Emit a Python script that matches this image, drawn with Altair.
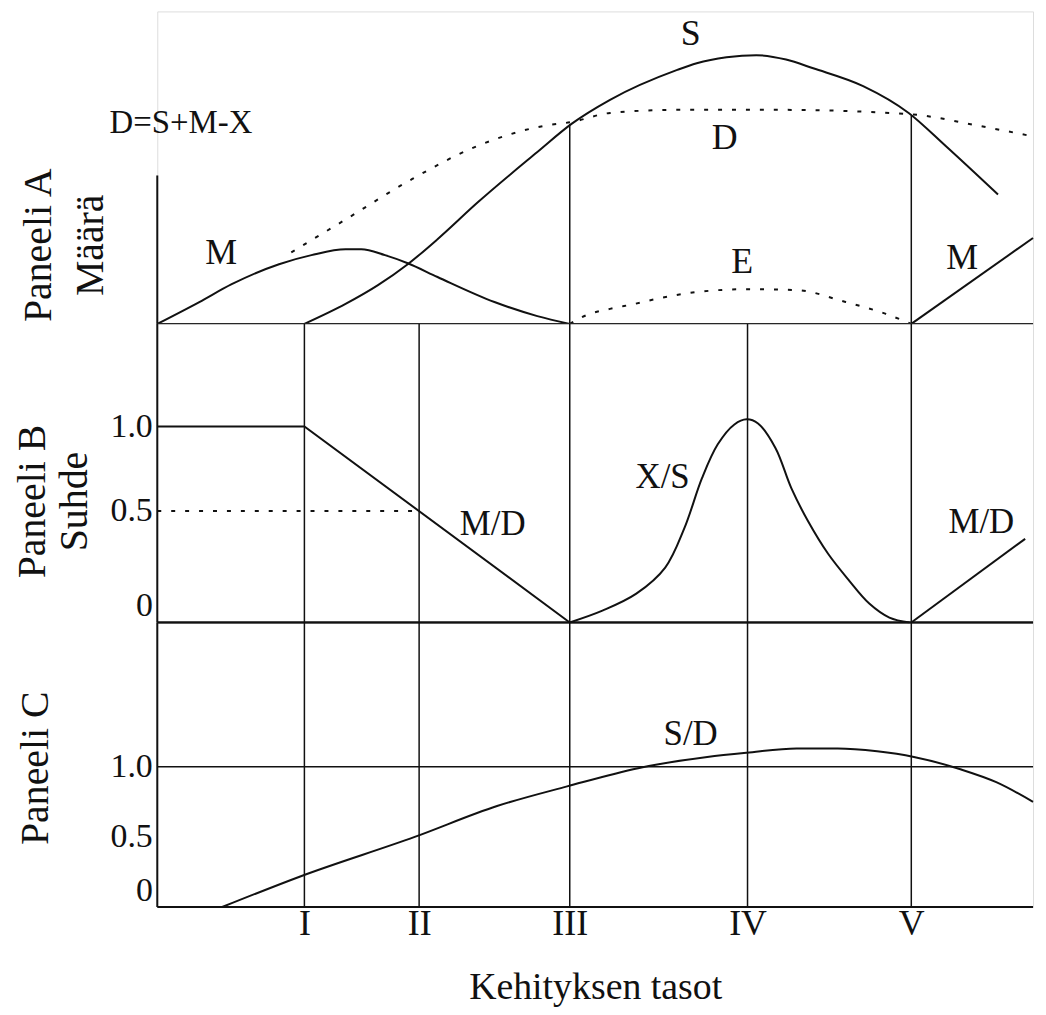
import altair as alt
import pandas as pd

FONT = "Liberation Serif"
INK = "#111111"

# ---- development levels (x axis) ----
levels_x = [16.8, 29.9, 47.1, 67.4, 86.1]
level_labels = ["I", "II", "III", "IV", "V"]

# ---- Panel A: amounts ----
s_x = [16.8, 21.5, 25.2, 28.6, 32.0, 36.6, 43.4, 47.3, 51.7, 59.3, 61.6, 65.0, 68.4, 71.8, 74.9, 80.6, 85.8, 90.0, 96.0]
s_y = [0, 6.4, 12.4, 19.1, 27.1, 38.9, 55.0, 64.0, 71.7, 81.2, 83.4, 85.3, 86.0, 84.6, 81.8, 76.1, 67.5, 57.0, 41.4]

m_x = [0, 4.8, 8.5, 13.9, 17.6, 21.5, 23.3, 26.0, 28.6, 32.0, 38.5, 43.4, 47.1]
m_y = [0, 7.0, 12.7, 19.1, 22.0, 23.9, 23.9, 22.0, 19.4, 15.0, 7.0, 2.5, 0]

m2_x = [86.1, 100]
m2_y = [0, 27.5]

d_x = [15.3, 21.5, 29.0, 36.6, 44.2, 47.3, 51.7, 59.3, 71.0, 85.9, 93.8, 100]
d_y = [22.9, 33.4, 46.2, 57.0, 63.4, 64.6, 67.5, 68.5, 68.5, 67.1, 63.4, 60.0]

e_x = [47.1, 49.1, 51.7, 54.5, 57.0, 61.6, 67.3, 73.0, 78.6, 83.2, 86.1]
e_y = [0, 2.9, 4.8, 6.4, 8.0, 10.2, 11.1, 10.8, 7.0, 3.2, 0]

a_axis_top = 47.5
a_vert_x = [47.1, 86.1]
a_vert_top = [64.0, 66.6]

a_labels = ["M", "S", "D", "E", "M"]
a_label_x = [7.3, 60.9, 64.8, 66.8, 91.9]
a_label_y = [22.6, 92.7, 59.6, 19.7, 21.0]
formula = ["D=S+M-X"]
formula_x = [2.7]
formula_y = [64.3]

# ---- Panel B: ratios ----
md_x = [0, 16.8, 47.1]
md_y = [1.0, 1.0, 0]
md2_x = [86.1, 99.1]
md2_y = [0, 0.375]
xs_x = [47.1, 50.9, 54.7, 58.0, 60.2, 62.2, 64.0, 65.9, 67.3, 68.6, 70.6, 72.4, 74.3, 76.6, 79.0, 81.3, 83.6, 85.9]
xs_y = [0, 0.054, 0.129, 0.246, 0.424, 0.694, 0.894, 1.01, 1.036, 1.015, 0.871, 0.635, 0.455, 0.308, 0.188, 0.085, 0.022, 0]
half_ref_x = [0, 29.9]
half_ref_y = 0.5
b_ticks = [0, 0.5, 1.0]
b_labels = ["M/D", "X/S", "M/D"]
b_label_x = [38.3, 57.7, 94.1]
b_label_y = [0.442, 0.70, 0.451]

# ---- Panel C: S/D ----
sd_x = [7.4, 16.4, 29.4, 38.8, 46.8, 54.9, 62.8, 67.3, 73.0, 77.7, 82.2, 86.4, 91.8, 95.8, 100]
sd_y = [0, 0.22, 0.50, 0.72, 0.86, 0.99, 1.07, 1.10, 1.13, 1.13, 1.11, 1.07, 0.98, 0.89, 0.75]
c_ticks = [0, 0.5, 1.0]
c_labels = ["S/D"]
c_label_x = [60.9]
c_label_y = [1.234]

W = 880
HA, HB, HC = 314, 300, 286
C_TOP = 2.0284

X_SCALE = alt.Scale(domain=[0, 100], nice=False, zero=False)


def df(xs, ys):
    return pd.DataFrame({"x": xs, "y": ys})


label_expr_y = "datum.value == 0 ? '0' : format(datum.value, '.1f')"
label_base_y = {"condition": {"test": "datum.value == 0", "value": "bottom"}, "value": "middle"}

common_title = dict(titleFont=FONT, titleFontWeight="normal", titleColor=INK,
                    titleAngle=270, titleAlign="center", titleBaseline="middle")

# ================= Panel A =================
yA = alt.Scale(domain=[0, 100], nice=False, zero=False)
axisA = alt.Axis(title=["Paneeli A", "Määrä"], labels=False, ticks=False, domain=False, grid=False,
                 titleFontSize=40, titleX=-119, titleY=234.5, titleLineHeight=52, **common_title)


def XA():
    return alt.X("x:Q", scale=X_SCALE, axis=None)


def YA(f="y"):
    return alt.Y(f + ":Q", scale=yA, axis=axisA)


baseA = alt.Chart(pd.DataFrame({"y": [0]})).mark_rule(color=INK, strokeWidth=2).encode(y=YA())
leftA = alt.Chart(pd.DataFrame({"x": [0], "y": [0], "y2": [a_axis_top]})).mark_rule(
    color=INK, strokeWidth=2).encode(x=XA(), y=YA(), y2="y2:Q")
vertA = alt.Chart(pd.DataFrame({"x": a_vert_x, "y": [0, 0], "y2": a_vert_top})).mark_rule(
    color=INK, strokeWidth=1.5).encode(x=XA(), y=YA(), y2="y2:Q")
lineS = alt.Chart(df(s_x, s_y)).mark_line(color=INK, strokeWidth=2, interpolate="monotone").encode(x=XA(), y=YA())
lineM = alt.Chart(df(m_x, m_y)).mark_line(color=INK, strokeWidth=2, interpolate="monotone").encode(x=XA(), y=YA())
lineM2 = alt.Chart(df(m2_x, m2_y)).mark_line(color=INK, strokeWidth=2).encode(x=XA(), y=YA())
lineD = alt.Chart(df(d_x, d_y)).mark_line(color=INK, strokeWidth=2, strokeDash=[4, 10],
                                          interpolate="monotone").encode(x=XA(), y=YA())
lineE = alt.Chart(df(e_x, e_y)).mark_line(color=INK, strokeWidth=2, strokeDash=[4, 10],
                                          interpolate="monotone").encode(x=XA(), y=YA())
textA = alt.Chart(pd.DataFrame({"x": a_label_x, "y": a_label_y, "t": a_labels})).mark_text(
    font=FONT, fontSize=36, color=INK, align="center", baseline="middle").encode(x=XA(), y=YA(), text="t:N")
formA = alt.Chart(pd.DataFrame({"x": formula_x, "y": formula_y, "t": formula})).mark_text(
    font=FONT, fontSize=33, color=INK, align="center", baseline="middle").encode(x=XA(), y=YA(), text="t:N")

panelA = alt.layer(baseA, leftA, vertA, lineS, lineM, lineM2, lineD, lineE, textA, formA).properties(
    width=W, height=HA)

# ================= Panel B =================
yB = alt.Scale(domain=[0, 0.5, 1.0, 1.5], range=[HB, 188, 103, 4.5], nice=False, zero=False)
axisB = alt.Axis(title=["Paneeli B", "Suhde"], values=b_ticks, labelExpr=label_expr_y,
                 labelFont=FONT, labelFontSize=34, labelColor=INK, labelAlign="right", labelPadding=5,
                 labelBaseline=label_base_y, labelOverlap=False,
                 ticks=False, tickSize=0, domain=False, grid=False,
                 titleFontSize=40, titleX=-125, titleY=178, titleLineHeight=42, **common_title)


def YB(f="y"):
    return alt.Y(f + ":Q", scale=yB, axis=axisB)


baseB = alt.Chart(pd.DataFrame({"y": [0]})).mark_rule(color=INK, strokeWidth=2).encode(y=YB())
leftB = alt.Chart(pd.DataFrame({"x": [0]})).mark_rule(color=INK, strokeWidth=2).encode(x=XA())
vertB = alt.Chart(pd.DataFrame({"x": levels_x})).mark_rule(color=INK, strokeWidth=1.5).encode(x=XA())
halfB = alt.Chart(pd.DataFrame({"x": [half_ref_x[0]], "x2": [half_ref_x[1]], "y": [half_ref_y]})).mark_rule(
    color=INK, strokeWidth=2, strokeDash=[4, 10]).encode(x=XA(), x2="x2:Q", y=YB())
lineMD = alt.Chart(df(md_x, md_y)).mark_line(color=INK, strokeWidth=2).encode(x=XA(), y=YB())
lineMD2 = alt.Chart(df(md2_x, md2_y)).mark_line(color=INK, strokeWidth=2).encode(x=XA(), y=YB())
lineXS = alt.Chart(df(xs_x, xs_y)).mark_line(color=INK, strokeWidth=2, interpolate="catmull-rom").encode(
    x=XA(), y=YB())
textB = alt.Chart(pd.DataFrame({"x": b_label_x, "y": b_label_y, "t": b_labels})).mark_text(
    font=FONT, fontSize=35, color=INK, align="center", baseline="middle").encode(x=XA(), y=YB(), text="t:N")

panelB = alt.layer(baseB, leftB, vertB, halfB, lineMD, lineMD2, lineXS, textB).properties(width=W, height=HB)

# ================= Panel C =================
yC = alt.Scale(domain=[0, C_TOP], nice=False, zero=False)
axisC = alt.Axis(title="Paneeli C", values=c_ticks, labelExpr=label_expr_y,
                 labelFont=FONT, labelFontSize=34, labelColor=INK, labelAlign="right", labelPadding=5,
                 labelBaseline=label_base_y, labelOverlap=False,
                 ticks=False, tickSize=0, domain=False, grid=False,
                 titleFontSize=40, titleX=-122, titleY=146, **common_title)

x_label_expr = "[" + ",".join("'%s'" % s for s in level_labels) + "][indexof([" + \
    ",".join(str(v) for v in levels_x) + "], datum.value)]"
axisX = alt.Axis(values=levels_x, labelExpr=x_label_expr, labelFont=FONT, labelFontSize=36, labelColor=INK,
                 labelPadding=0, labelOverlap=False, labelFlush=False, ticks=False, tickSize=0, domain=False,
                 grid=False, title="Kehityksen tasot", titleFont=FONT, titleFontSize=38,
                 titleFontWeight="normal", titleColor=INK, titleBaseline="alphabetic", titleY=92)


def XC():
    return alt.X("x:Q", scale=X_SCALE, axis=axisX)


def YC(f="y"):
    return alt.Y(f + ":Q", scale=yC, axis=axisC)


hC = alt.Chart(pd.DataFrame({"y": [0, C_TOP]})).mark_rule(color=INK, strokeWidth=2).encode(y=YC())
oneC = alt.Chart(pd.DataFrame({"y": [1.0]})).mark_rule(color=INK, strokeWidth=1.5).encode(y=YC())
leftC = alt.Chart(pd.DataFrame({"x": [0]})).mark_rule(color=INK, strokeWidth=2).encode(x=XC())
vertC = alt.Chart(pd.DataFrame({"x": levels_x})).mark_rule(color=INK, strokeWidth=1.5).encode(x=XC())
lineSD = alt.Chart(df(sd_x, sd_y)).mark_line(color=INK, strokeWidth=2, interpolate="monotone").encode(
    x=XC(), y=YC())
textC = alt.Chart(pd.DataFrame({"x": c_label_x, "y": c_label_y, "t": c_labels})).mark_text(
    font=FONT, fontSize=35, color=INK, align="center", baseline="middle").encode(x=XC(), y=YC(), text="t:N")

panelC = alt.layer(hC, oneC, leftC, vertC, lineSD, textC).properties(width=W, height=HC)

chart = alt.vconcat(panelA, panelB, panelC, spacing=0, bounds="flush").properties(
    padding={"left": 4, "right": 0, "top": 0, "bottom": 0}
).configure_view(stroke=None).configure(background="white")

chart.save("out.html", embed_options={"renderer": "svg", "actions": False})
